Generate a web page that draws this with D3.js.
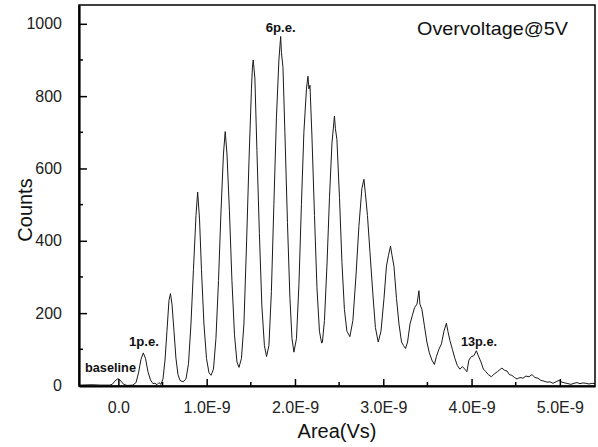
<!DOCTYPE html>
<html>
<head>
<meta charset="utf-8">
<script src="https://cdn.jsdelivr.net/npm/d3@7"></script>
<style>
  body { margin: 0; background: #fff; }
  svg { display: block; font-family: "Liberation Sans", Arial, sans-serif; }
</style>
</head>
<body>
<div class="canvas_area"></div>
<script>
// DATA (area in units of 1E-9 Vs)
const area = [
  -0.44, -0.30, -0.20, -0.10, -0.07, -0.04, -0.005, 0.03, 0.06, 0.10,
  0.165, 0.20, 0.228, 0.256, 0.282, 0.307, 0.335, 0.364, 0.392, 0.414,
  0.437, 0.46, 0.482, 0.505, 0.528, 0.55, 0.573, 0.59, 0.607, 0.63,
  0.652, 0.675, 0.698, 0.732, 0.766, 0.794, 0.822, 0.85, 0.879, 0.898,
  0.919, 0.941, 0.969, 0.998, 1.026, 1.049, 1.077, 1.105, 1.134, 1.162,
  1.19, 1.21, 1.23, 1.258, 1.286, 1.315, 1.343, 1.366, 1.394, 1.422,
  1.45, 1.479, 1.507, 1.518, 1.527, 1.546, 1.569, 1.597, 1.625, 1.654,
  1.678, 1.705, 1.733, 1.761, 1.79, 1.818, 1.838, 1.847, 1.864, 1.886,
  1.915, 1.943, 1.966, 1.988, 2.017, 2.045, 2.073, 2.101, 2.13, 2.147,
  2.158, 2.17, 2.192, 2.221, 2.249, 2.277, 2.302, 2.311, 2.334, 2.362,
  2.391, 2.419, 2.447, 2.458, 2.475, 2.504, 2.532, 2.56, 2.588, 2.622,
  2.656, 2.69, 2.724, 2.758, 2.781, 2.798, 2.821, 2.849, 2.883, 2.911,
  2.943, 2.974, 3.008, 3.036, 3.059, 3.082, 3.099, 3.121, 3.15, 3.178,
  3.207, 3.23, 3.252, 3.275, 3.303, 3.331, 3.354, 3.382, 3.404, 3.415,
  3.438, 3.466, 3.494, 3.522, 3.551, 3.579, 3.602, 3.63, 3.659, 3.687,
  3.715, 3.732, 3.754, 3.783, 3.811, 3.839, 3.868, 3.896, 3.924, 3.947,
  3.97, 3.998, 4.026, 4.054, 4.077, 4.106, 4.134, 4.162, 4.19, 4.224,
  4.258, 4.293, 4.322, 4.344, 4.373, 4.401, 4.429, 4.457, 4.486, 4.514,
  4.548, 4.582, 4.616, 4.65, 4.684, 4.718, 4.752, 4.786, 4.82, 4.854,
  4.888, 4.922, 4.956, 4.99, 5.024, 5.058, 5.092, 5.126, 5.16, 5.194,
  5.228, 5.262, 5.296, 5.33, 5.364, 5.398
];
const counts = [
  1, 2, 1, 1, 3, 12, 19, 12, 3, 0,
  1, 8, 35, 72, 90, 75, 38, 15, 5, 6,
  2, 8, 3, 18, 70, 150, 235, 254, 225, 150,
  75, 30, 14, 10, 18, 60, 170, 320, 470, 535,
  460, 320, 170, 75, 35, 28, 45, 130, 290, 480,
  640, 702, 640, 480, 290, 140, 65, 50, 75, 170,
  380, 620, 820, 880, 900, 850, 650, 420, 220, 110,
  80, 110, 260, 500, 740, 900, 965, 920, 880, 700,
  450, 240, 130, 92, 130, 280, 500, 700, 820, 855,
  820, 830, 690, 470, 270, 150, 117, 120, 180, 330,
  520, 670, 745, 710, 680, 520, 340, 210, 150, 135,
  180, 300, 440, 545, 570, 530, 470, 370, 250, 160,
  120, 150, 240, 330, 360, 385, 360, 330, 240, 170,
  120, 110, 102, 120, 170, 195, 215, 225, 262, 225,
  210, 165, 120, 90, 70, 58, 80, 100, 115, 150,
  172, 150, 125, 100, 75, 55, 45, 52, 45, 38,
  70, 80, 82, 96, 82, 65, 45, 38, 30, 24,
  32, 38, 44, 48, 42, 40, 30, 28, 22, 18,
  22, 20, 26, 24, 30, 22, 20, 14, 12, 9,
  10, 6, 10, 14, 9, 7, 5, 3, 6, 8,
  5, 7, 6, 4, 6, 5
];

// TICKS
const xTicks = [0, 1, 2, 3, 4, 5];
const xMinor = [0.5, 1.5, 2.5, 3.5, 4.5];
const yTicks = [0, 200, 400, 600, 800, 1000];
const yMinor = [100, 300, 500, 700, 900];

const svgwidth = 598, svgheight = 447;
const margin = {top: 5, right: 3, bottom: 61, left: 79};
const graphwidth = svgwidth - margin.left - margin.right;
const graphheight = svgheight - margin.top - margin.bottom;

const svg = d3.select(".canvas_area").append("svg")
  .attr("width", svgwidth).attr("height", svgheight);
const graph = svg.append("g")
  .attr("transform", `translate(${margin.left}, ${margin.top})`);

// SCALES
const X = d3.scaleLinear().domain([-0.446, 5.398]).range([0, graphwidth]);
const Y = d3.scaleLinear().domain([-1.5, 1052]).range([graphheight, 0]);

// CLIP + LINE
graph.append("clipPath").attr("id", "clip")
  .append("rect").attr("width", graphwidth).attr("height", graphheight);

const data = area.map((a, i) => ({x: a, y: counts[i]}));
graph.append("path")
  .datum(data)
  .attr("clip-path", "url(#clip)")
  .attr("fill", "none")
  .attr("stroke", "#1a1a1a")
  .attr("stroke-width", 1)
  .attr("stroke-linejoin", "round")
  .attr("d", d3.line().x(d => X(d.x)).y(d => Y(d.y)));

// FRAME
graph.append("rect")
  .attr("width", graphwidth).attr("height", graphheight)
  .attr("fill", "none").attr("stroke", "#000").attr("stroke-width", 1.5);

// AXES (inward ticks)
const fmt = d => d === 0 ? "0.0" : d.toFixed(1) + "E-9";
const xAxis = graph.append("g").attr("transform", `translate(0, ${graphheight})`)
  .call(d3.axisBottom(X).tickValues(xTicks).tickFormat(fmt).tickSizeInner(-7).tickSizeOuter(0).tickPadding(16));
xAxis.append("g").selectAll("line").data(xMinor).join("line")
  .attr("x1", d => X(d)).attr("x2", d => X(d)).attr("y1", 0).attr("y2", -4)
  .attr("stroke", "#000").attr("stroke-width", 1.5);

const yAxis = graph.append("g")
  .call(d3.axisLeft(Y).tickValues(yTicks).tickFormat(d3.format("d")).tickSizeInner(-8).tickSizeOuter(0).tickPadding(17));
yAxis.append("g").selectAll("line").data(yMinor).join("line")
  .attr("x1", 0).attr("x2", 4).attr("y1", d => Y(d)).attr("y2", d => Y(d))
  .attr("stroke", "#000").attr("stroke-width", 1.5);

[xAxis, yAxis].forEach(ax => {
  ax.select(".domain").attr("stroke-width", 2.2);
  ax.selectAll(".tick line").attr("stroke-width", 1.5);
  ax.selectAll(".tick text").attr("font-size", 16).attr("fill", "#222")
    .attr("font-family", "'Liberation Sans', Arial, sans-serif");
});

// AXIS TITLES
svg.append("text")
  .attr("x", margin.left + graphwidth / 2).attr("y", 438)
  .attr("text-anchor", "middle").attr("font-size", 20).attr("fill", "#111")
  .text("Area(Vs)");
svg.append("text")
  .attr("transform", "translate(32, 210) rotate(-90)")
  .attr("text-anchor", "middle").attr("font-size", 20).attr("fill", "#111")
  .text("Counts");

// ANNOTATIONS
svg.append("text")
  .attr("x", 417).attr("y", 35).attr("font-size", 19).attr("fill", "#111")
  .attr("textLength", 151).attr("lengthAdjust", "spacingAndGlyphs")
  .text("Overvoltage@5V");

const note = (txt, x, y, anchor, len) => svg.append("text")
  .attr("x", x).attr("y", y).attr("text-anchor", anchor)
  .attr("font-size", 12).attr("font-weight", "bold").attr("fill", "#111")
  .attr("textLength", len).attr("lengthAdjust", "spacingAndGlyphs")
  .text(txt);

note("6p.e.", margin.left + X(1.838), 32, "middle", 30);
note("1p.e.", 129, 346, "start", 30);
note("baseline", 85, 372, "start", 51);
note("13p.e.", 461, 345.5, "start", 36);
</script>
</body>
</html>
